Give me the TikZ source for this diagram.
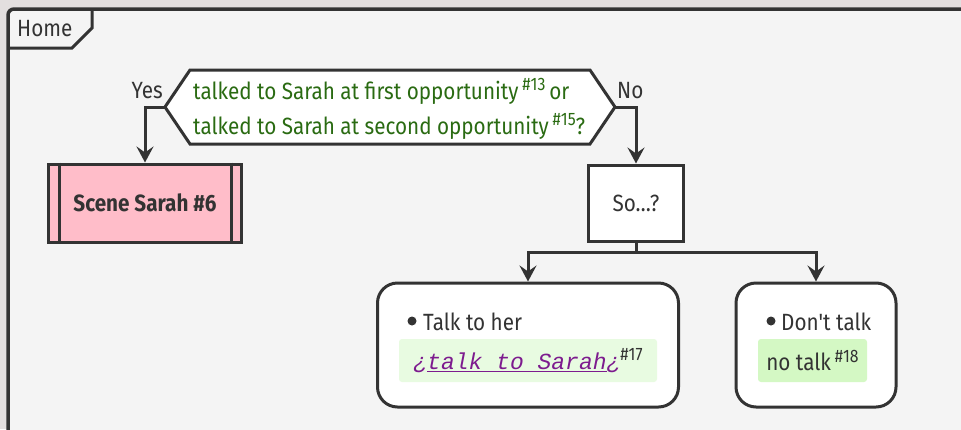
\documentclass[tikz,border=0pt]{standalone}
\usepackage{fontspec}
\setmainfont{Fira Sans}[Ligatures=TeXOff, FakeStretch=0.88]
\newfontfamily\codefont{Liberation Mono}
\usetikzlibrary{arrows.meta}

\definecolor{pageback}{HTML}{E3DFDF}
\definecolor{canvas}{HTML}{F4F4F4}
\definecolor{edge}{HTML}{333333}
\definecolor{condgreen}{HTML}{2A6B12}
\definecolor{scenepink}{HTML}{FFBDC9}
\definecolor{linkpale}{HTML}{E8FBE1}
\definecolor{linkgreen}{HTML}{D4F8C4}
\definecolor{linkpurple}{HTML}{7D1B8E}

\newcommand{\refno}[1]{\raisebox{0.7ex}{\fontsize{18}{18}\selectfont\##1}}

\tikzset{
  flow/.style={-{Stealth[length=16pt,width=17pt,inset=6pt]}, draw=edge, line width=3pt},
  scenebox/.style={rectangle, draw=edge, fill=scenepink, line width=3pt, minimum width=193, minimum height=78, font=\fontsize{23.5}{27}\selectfont\bfseries},
  plainbox/.style={rectangle, draw=edge, fill=white, line width=3pt, minimum width=95, minimum height=76},
  itembox/.style={rectangle, rounded corners=20pt, draw=edge, fill=white, line width=3pt, minimum height=124},
  linkbox/.style={rectangle, rounded corners=3pt, minimum height=43, inner sep=0pt}
}

\begin{document}
\begin{tikzpicture}[x=1pt,y=-1pt, font=\fontsize{23.5}{27}\selectfont, text=edge]
\useasboundingbox (0,0) rectangle (961,429);
\fill[pageback] (0,0) rectangle (961,429);

% frame and tab
\fill[canvas, rounded corners=6pt] (8,9) rectangle (966,445);
\draw[edge, line width=3.5pt, rounded corners=6pt] (8,445) -- (8,9) -- (966,9) -- (966,445);
\draw[edge, line width=3pt] (8,48) -- (72,48) -- (92,28) -- (92,9);
\node[anchor=base west, inner sep=0] (home) at (17,36) {Home};

% condition
\coordinate (condW) at (165,107);
\coordinate (condE) at (615,107);
\filldraw[fill=white, draw=edge, line width=3pt] (condW) -- (190,70) -- (590,70) -- (condE) -- (590,144) -- (190,144) -- cycle;
\node[anchor=west, inner sep=0, align=left, text=condgreen, font=\fontsize{23.5}{35}\selectfont] (cond) at (193,109)
  {talked to Sarah at first opportunity\,\refno{13}\,or\\talked to Sarah at second opportunity\,\refno{15}?};
\node[anchor=base east, inner sep=0] (yes) at (163,98) {Yes};
\node[anchor=base west, inner sep=0] (no) at (617,98) {No};

% branches
\node[scenebox] (scene) at (145,203) {Scene Sarah \#6};
\draw[edge, line width=3pt] ([xshift=12pt]scene.north west) -- ([xshift=12pt]scene.south west);
\draw[edge, line width=3pt] ([xshift=-12pt]scene.north east) -- ([xshift=-12pt]scene.south east);
\node[plainbox] (so) at (636,203) {So…?};

\node[itembox, minimum width=301] (talk) at (528,345) {};
\node[itembox, minimum width=160] (notalk) at (816,345) {};

\coordinate (split) at (636,252);
\draw[flow] (condW) -| (scene.north);
\draw[flow] (condE) -| (so.north);
\draw[edge, line width=3pt] (so.south) -- (split);
\draw[flow] (split) -| (talk.north);
\draw[flow] (split) -| (notalk.north);

% choices
\fill[edge] (412,321) circle (4.5);
\node[anchor=base west, inner sep=0] (talkItem) at (423,330) {Talk to her};
\node[linkbox, fill=linkpale, minimum width=258] (talkLink) at (528,360.5)
  {{\codefont\fontsize{23}{26}\selectfont\itshape\color{linkpurple}¿\underline{talk to Sarah}¿}\refno{17}};
\fill[edge] (771,321) circle (4.5);
\node[anchor=base west, inner sep=0] (notalkItem) at (781,330) {Don't talk};
\node[linkbox, fill=linkgreen, minimum width=109] (notalkLink) at (812.5,360.5) {no talk\,\refno{18}};
\end{tikzpicture}
\end{document}
